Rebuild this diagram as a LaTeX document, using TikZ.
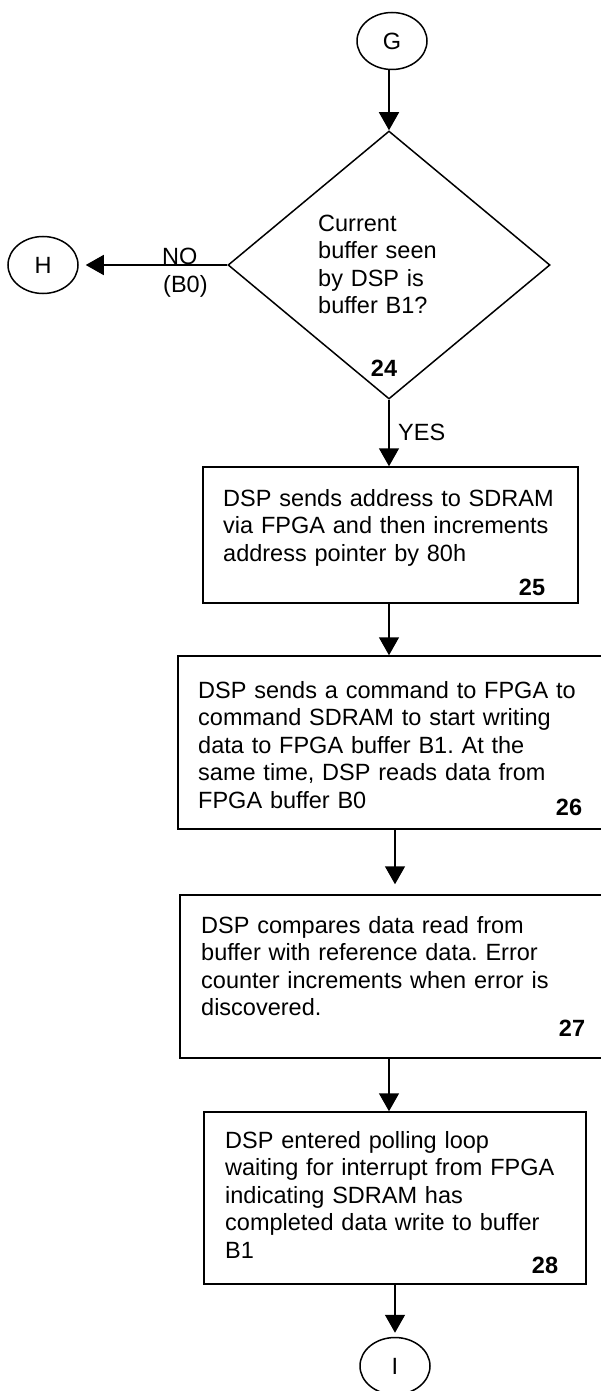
\documentclass[tikz,border=0pt]{standalone}
\usepackage{fontspec}
\setmainfont{Liberation Sans}
\usetikzlibrary{shapes.geometric,arrows.meta}
\frenchspacing
\begin{document}
\begin{tikzpicture}[x=1pt,y=-1pt,
  every node/.style={font=\fontsize{23.5}{27.4}\selectfont},
  conn/.style={draw, ellipse, line width=1.5pt, minimum width=70pt, minimum height=57pt, inner sep=0pt},
  procbox/.style={draw, rectangle, line width=1.5pt, inner sep=0pt},
  decision/.style={draw, diamond, line width=1.5pt, inner sep=0pt, minimum width=322pt, minimum height=268pt},
  txt/.style={anchor=base west, align=left, text width=420pt, inner sep=0pt},
  lbl/.style={anchor=base west, inner sep=0pt},
  num/.style={font=\fontsize{23.5}{27.4}\selectfont\bfseries, inner sep=0pt},
  arr/.style={line width=1.5pt, -{Triangle[length=18pt,width=20pt]}}
]
\useasboundingbox (0,0) rectangle (600,1391);

% connectors (ellipses)
\node[conn] (G) at (392,41) {G};
\node[conn] (H) at (43,265) {H};
\node[conn] (I) at (395,1366) {I};

% decision
\node[decision] (D) at (389,265) {};
\node[txt] (Dt) at (318,231.5) {Current\\buffer seen\\by DSP is\\buffer B1?};
\node[num] (n24) at (384,368) {24};

% process boxes
\node[procbox, minimum width=375pt, minimum height=136pt] (b25) at (390.5,535) {};
\node[txt] (t25) at (223,506.5) {DSP sends address to SDRAM\\via FPGA and then increments\\address pointer by 80h};
\node[num] (n25) at (532,587) {25};

\node[procbox, minimum width=434pt, minimum height=173pt] (b26) at (395,742.5) {};
\node[txt] (t26) at (198,698.5) {DSP sends a command to FPGA to\\command SDRAM to start writing\\data to FPGA buffer B1. At the\\same time, DSP reads data from\\FPGA buffer B0};
\node[num] (n26) at (569,807) {26};

\node[procbox, minimum width=432pt, minimum height=163pt] (b27) at (396,976.5) {};
\node[txt] (t27) at (201,933.5) {DSP compares data read from\\buffer with reference data. Error\\counter increments when error is\\discovered.};
\node[num] (n27) at (572,1028) {27};

\node[procbox, minimum width=382pt, minimum height=172pt] (b28) at (395,1198) {};
\node[txt] (t28) at (225,1148.5) {DSP entered polling loop\\waiting for interrupt from FPGA\\indicating SDRAM has\\completed data write to buffer\\B1};
\node[num] (n28) at (545,1265) {28};

% labels
\node[lbl] (no) at (162,264) {NO};
\node[lbl] (b0) at (163,292) {(B0)};
\node[lbl] (yes) at (398,440) {YES};

% arrows
\draw[arr] (D.north |- G.south) -- (D.north);
\draw[arr, shorten >=7pt] (D.west) -- (H.east);
\draw[arr] (D.south) -- (D.south |- b25.north);
\draw[arr] (b25.south -| D.south) -- (b26.north -| D.south);
\draw[arr, shorten >=10pt] (b26.south) -- (b26.south |- b27.north);
\draw[arr] (b27.south -| D.south) -- (b28.north -| D.south);
\draw[arr, shorten >=4pt] (b28.south) -- (I.north);
\end{tikzpicture}
\end{document}
